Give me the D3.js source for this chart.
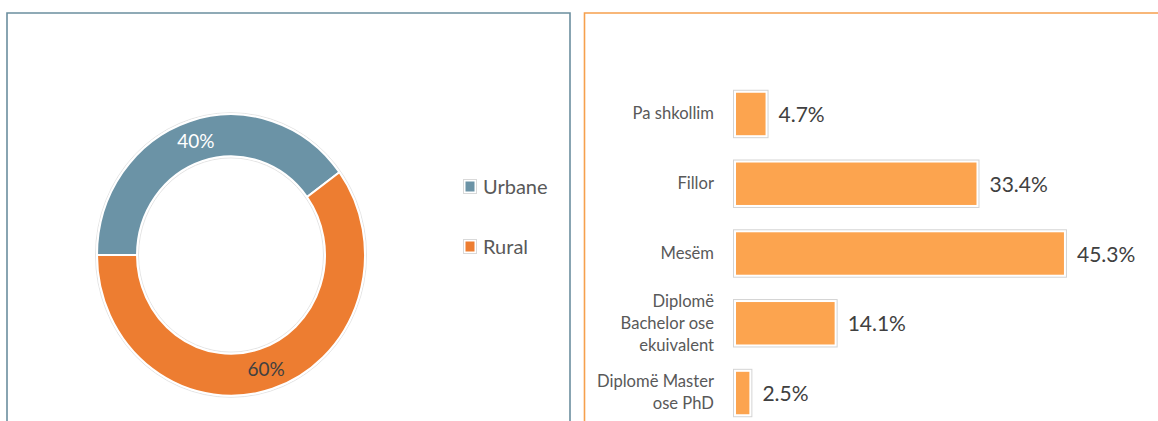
<!DOCTYPE html>
<html>
<head>
<meta charset="utf-8">
<script src="https://cdn.jsdelivr.net/npm/d3@7"></script>
<style>
  body { margin: 0; background: #fff; }
  svg { display: block; font-family: Lato, "Open Sans", sans-serif; }
</style>
</head>
<body>
<div id="container"></div>
<script>
const width = 1158;
const height = 421;

// donut data
const areas = ["Urbane", "Rural"];
const areaShares = [40, 60];
const areaColors = ["#6b93a6", "#ed7d31"];

// bar data
const levels = ["Pa shkollim", "Fillor", "Mesëm", "Diplomë Bachelor ose ekuivalent", "Diplomë Master ose PhD"];
const levelLines = [["Pa shkollim"], ["Fillor"], ["Mesëm"], ["Diplomë", "Bachelor ose", "ekuivalent"], ["Diplomë Master", "ose PhD"]];
const levelShares = [4.7, 33.4, 45.3, 14.1, 2.5];

let svg = d3.select("#container")
	.append("svg")
	.attr("width", width)
	.attr("height", height);

// panel frames
svg.append("path")
	.attr("d", "M7,430 V13 H570 V430")
	.attr("fill", "none")
	.attr("stroke", "#6b8e9f")
	.attr("stroke-width", 1.6);

svg.append("path")
	.attr("d", "M584.5,430 V13 H1170")
	.attr("fill", "none")
	.attr("stroke", "#f6a04d")
	.attr("stroke-width", 1.6);

// ---- donut ----
const cx = 231, cy = 255, sy = 1.05;
const outerR = 134, innerR = 94;

const pie = d3.pie().sort(null)
	.startAngle(-Math.PI / 2)
	.endAngle(1.5 * Math.PI);
const arc = d3.arc().innerRadius(innerR).outerRadius(outerR);
const slices = pie(areaShares);

let donut = svg.append("g")
	.attr("transform", "translate(" + cx + "," + cy + ") scale(1," + sy + ")");

// faint outline around the ring
[outerR + 1.5, innerR - 1.5].forEach(function(r) {
	donut.append("circle")
		.attr("r", r)
		.attr("fill", "none")
		.attr("stroke", "#e4e4e4")
		.attr("stroke-width", 1)
		.attr("vector-effect", "non-scaling-stroke");
});

donut.selectAll("path.slice")
	.data(slices)
	.enter()
	.append("path")
	.attr("class", "slice")
	.attr("d", arc)
	.attr("fill", (d, i) => areaColors[i])
	.attr("stroke", "#fff")
	.attr("stroke-width", 2)
	.attr("vector-effect", "non-scaling-stroke");

svg.selectAll("text.pct")
	.data(slices)
	.enter()
	.append("text")
	.attr("class", "pct")
	.attr("x", d => cx + arc.centroid(d)[0])
	.attr("y", d => cy + arc.centroid(d)[1] * sy)
	.attr("dy", "0.36em")
	.attr("text-anchor", "middle")
	.attr("font-size", 19)
	.attr("fill", (d, i) => i === 0 ? "#ffffff" : "#404040")
	.text(d => d.data + "%");

// legend
const legendY = d3.scalePoint().domain(areas).range([186.5, 246.5]);
let legend = svg.selectAll("g.legend")
	.data(areas)
	.enter()
	.append("g")
	.attr("class", "legend")
	.attr("transform", d => "translate(463," + legendY(d) + ")");

legend.append("rect")
	.attr("x", 0.5).attr("y", -7)
	.attr("width", 13).attr("height", 14)
	.attr("fill", "#fff")
	.attr("stroke", "#d9d9d9");
legend.append("rect")
	.attr("x", 2.5).attr("y", -5)
	.attr("width", 9).attr("height", 10)
	.attr("fill", (d, i) => areaColors[i]);
legend.append("text")
	.attr("x", 20)
	.attr("y", 0)
	.attr("dy", "0.36em")
	.attr("font-size", 20)
	.attr("fill", "#595959")
	.text(d => d);

// ---- bars ----
const x = d3.scaleLinear().domain([0, 50]).range([733, 1100.5]);
const y = d3.scaleBand().domain(levels)
	.range([78.6, 427.4])
	.paddingInner(0.32)
	.paddingOuter(0.16);

let bars = svg.selectAll("g.bar")
	.data(levels)
	.enter()
	.append("g")
	.attr("class", "bar");

bars.append("rect")
	.attr("x", x(0) + 0.5)
	.attr("y", d => y(d) + 0.5)
	.attr("width", (d, i) => x(levelShares[i]) - x(0))
	.attr("height", y.bandwidth())
	.attr("fill", "#fff")
	.attr("stroke", "#d4d4d4");

bars.append("rect")
	.attr("x", x(0) + 3)
	.attr("y", d => y(d) + 3)
	.attr("width", (d, i) => Math.max(0, x(levelShares[i]) - x(0) - 5))
	.attr("height", y.bandwidth() - 5)
	.attr("fill", "#fca44f");

bars.append("text")
	.attr("x", (d, i) => x(levelShares[i]) + 11)
	.attr("y", d => y(d) + y.bandwidth() / 2 + 1)
	.attr("dy", "0.36em")
	.attr("font-size", 21)
	.attr("fill", "#404040")
	.text((d, i) => levelShares[i].toFixed(1) + "%");

// category labels, wrapped like the original
const lineH = 22;
bars.append("text")
	.attr("text-anchor", "end")
	.attr("font-size", 16.6)
	.attr("fill", "#595959")
	.each(function(d, i) {
		const lines = levelLines[i];
		const mid = y(d) + y.bandwidth() / 2;
		d3.select(this).selectAll("tspan")
			.data(lines)
			.enter()
			.append("tspan")
			.attr("x", 714)
			.attr("y", (l, j) => mid + (j - (lines.length - 1) / 2) * lineH)
			.attr("dy", "0.36em")
			.text(l => l);
	});
</script>
</body>
</html>
